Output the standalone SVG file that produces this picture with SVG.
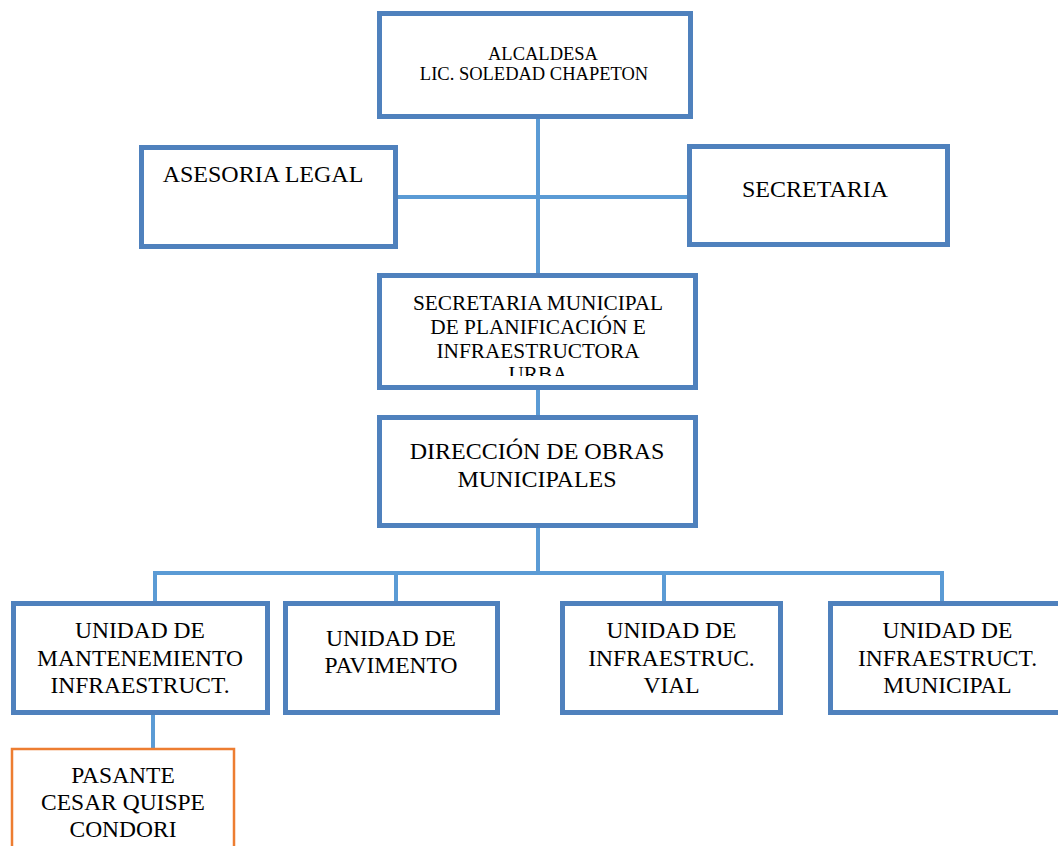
<svg xmlns="http://www.w3.org/2000/svg" width="1058" height="846" viewBox="0 0 1058 846">
<style>
.box{fill:#fff;stroke:#4F81BD;stroke-width:5}
.obox{fill:#fff;stroke:#ED7D31;stroke-width:2.5}
.t{fill:#000;text-anchor:middle}
.c{stroke:#5B9BD5;stroke-width:4;fill:none}
</style>
<defs>
<clipPath id="smpclip"><rect x="382" y="278" width="311" height="98"/></clipPath>
</defs>
<rect width="1058" height="846" fill="#fff"/>
<g id="connectors">
<line class="c" x1="538" y1="119" x2="538" y2="273"/>
<line class="c" x1="398" y1="197" x2="687" y2="197"/>
<line class="c" x1="538" y1="390" x2="538" y2="415"/>
<line class="c" x1="538" y1="528" x2="538" y2="573"/>
<polyline class="c" points="155,601 155,573 942,573 942,601"/>
<line class="c" x1="396" y1="573" x2="396" y2="601"/>
<line class="c" x1="664" y1="573" x2="664" y2="601"/>
<line class="c" x1="153" y1="715" x2="153" y2="748"/>
</g>
<g font-family="'Liberation Serif', 'Times New Roman', 'DejaVu Serif', serif">
<g id="alcaldesa">
<rect class="box" x="379.5" y="13.5" width="311" height="103"/>
<text class="t" font-size="18.5" x="543" y="60">ALCALDESA</text>
<text class="t" font-size="18.5" x="534" y="80">LIC. SOLEDAD CHAPETON</text>
</g>
<g id="asesoria">
<rect class="box" x="141.5" y="147.5" width="254" height="99"/>
<text class="t" font-size="24" x="263" y="182">ASESORIA LEGAL</text>
</g>
<g id="secretaria">
<rect class="box" x="689.5" y="146.5" width="258" height="98"/>
<text class="t" font-size="24" x="815" y="197">SECRETARIA</text>
</g>
<g id="smp">
<rect class="box" x="379.5" y="275.5" width="316" height="112"/>
<g clip-path="url(#smpclip)">
<text class="t" font-size="21.3" x="538" y="310">SECRETARIA MUNICIPAL</text>
<text class="t" font-size="21.3" x="538" y="334">DE PLANIFICACIÓN E</text>
<text class="t" font-size="21.3" x="538" y="357.5">INFRAESTRUCTORA</text>
<text class="t" font-size="21.3" x="538" y="381">URBA</text>
</g>
</g>
<g id="direccion">
<rect class="box" x="379.5" y="417.5" width="316" height="108"/>
<text class="t" font-size="24" x="537" y="459">DIRECCIÓN DE OBRAS</text>
<text class="t" font-size="24" x="537" y="487">MUNICIPALES</text>
</g>
<g id="u-mantenimiento">
<rect class="box" x="13.5" y="603.5" width="254" height="109"/>
<text class="t" font-size="23.5" x="140" y="638">UNIDAD DE</text>
<text class="t" font-size="23.5" x="140" y="666">MANTENEMIENTO</text>
<text class="t" font-size="23.5" x="140" y="693">INFRAESTRUCT.</text>
</g>
<g id="u-pavimento">
<rect class="box" x="285.5" y="603.5" width="212" height="109"/>
<text class="t" font-size="23.5" x="391" y="646">UNIDAD DE</text>
<text class="t" font-size="23.5" x="391" y="673">PAVIMENTO</text>
</g>
<g id="u-vial">
<rect class="box" x="562.5" y="603.5" width="218" height="109"/>
<text class="t" font-size="23.5" x="671.5" y="638">UNIDAD DE</text>
<text class="t" font-size="23.5" x="671.5" y="666">INFRAESTRUC.</text>
<text class="t" font-size="23.5" x="671.5" y="693">VIAL</text>
</g>
<g id="u-municipal">
<rect class="box" x="830.5" y="603.5" width="234" height="109"/>
<text class="t" font-size="23.5" x="947.5" y="638">UNIDAD DE</text>
<text class="t" font-size="23.5" x="947.5" y="666">INFRAESTRUCT.</text>
<text class="t" font-size="23.5" x="947.5" y="693">MUNICIPAL</text>
</g>
<g id="pasante">
<rect class="obox" x="12" y="749" width="222" height="120"/>
<text class="t" font-size="23.5" x="123" y="783">PASANTE</text>
<text class="t" font-size="23.5" x="123" y="810">CESAR QUISPE</text>
<text class="t" font-size="23.5" x="123" y="837">CONDORI</text>
</g>
</g>
</svg>
